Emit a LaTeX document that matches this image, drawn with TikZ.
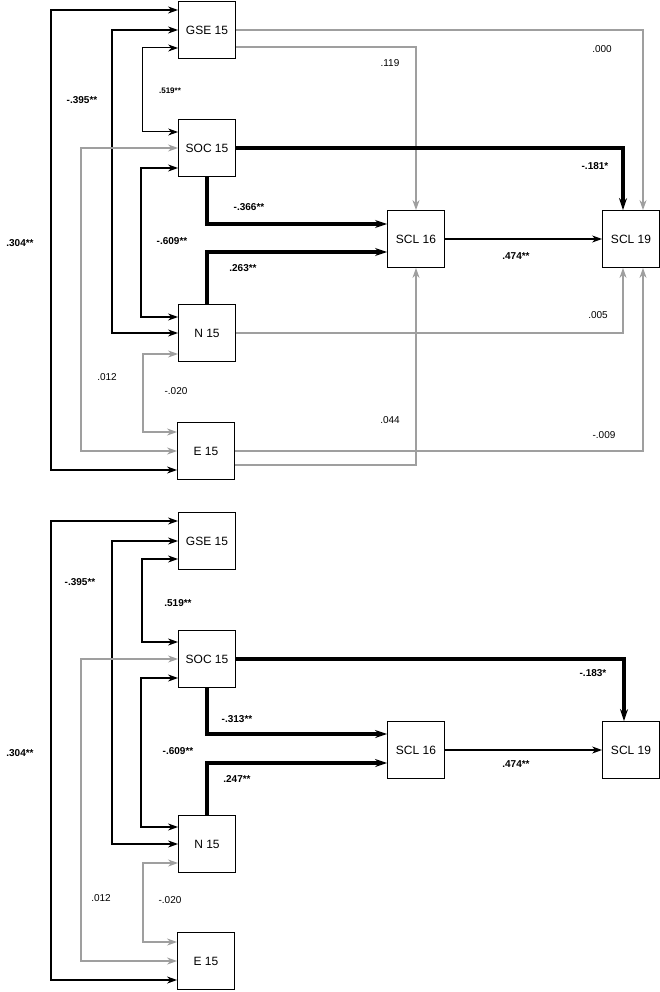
\documentclass[tikz,border=0pt]{standalone}
\usepackage{fontspec}
\setmainfont{Liberation Sans}
\usetikzlibrary{arrows.meta}
\tikzset{
  var/.style={rectangle, draw, thick, minimum width=57pt, minimum height=57pt, inner sep=0pt, font=\fontsize{12}{14}\selectfont},
  corr/.style={{Stealth[length=10pt,width=7pt]}-{Stealth[length=10pt,width=7pt]}, line width=1.6pt},
  ns/.style={-{Stealth[length=10pt,width=7pt]}, line width=1.5pt, gray!75},
  nscorr/.style={{Stealth[length=10pt,width=7pt]}-{Stealth[length=10pt,width=7pt]}, line width=1.5pt, gray!75},
  sig/.style={-{Stealth[length=12pt,width=8pt]}, line width=3.5pt},
  path/.style={-{Stealth[length=10pt,width=7pt]}, line width=1.4pt},
  coef/.style={font=\fontsize{10}{12}\selectfont},
  bcoef/.style={font=\bfseries\fontsize{10}{12}\selectfont}
}
\begin{document}
\begin{tikzpicture}[x=1pt, y=-1pt]
  \useasboundingbox (0,0) rectangle (660,992);

  % model with all paths
  \begin{scope}
    \node [var] (gse) at (207,30) {GSE 15};
    \node [var] (soc) at (207,148) {SOC 15};
    \node [var] (n) at (207,333) {N 15};
    \node [var] (e) at (206,451) {E 15};
    \node [var] (scla) at (416,239) {SCL 16};
    \node [var] (sclb) at (631,239) {SCL 19};

    \draw [corr] ([yshift=20pt]gse.west) -- ++(-127,0) |- ([yshift=-19pt]e.west);
    \draw [corr] (gse.west) -- ++(-66,0) |- (n.west);
    \draw [corr, line width=1pt] ([yshift=-18pt]gse.west) -- ++(-36,0) |- ([yshift=16pt]soc.west);
    \draw [nscorr] (soc.west) -- ++(-97,0) |- (e.west);
    \draw [corr] ([yshift=-20pt]soc.west) -- ++(-37,0) |- ([yshift=16pt]n.west);
    \draw [nscorr] ([yshift=-21pt]n.west) -- ++(-35,0) |- ([yshift=19pt]e.west);

    \draw [ns] (gse.east) -| ([xshift=12pt]sclb.north);
    \draw [ns] ([yshift=-17pt]gse.east) -| (scla.north);
    \draw [sig] (soc.east) -| ([xshift=-8pt]sclb.north);
    \draw [sig] (soc.south) |- ([yshift=15pt]scla.west);
    \draw [sig] (n.north) |- ([yshift=-13pt]scla.west);
    \draw [path] (scla) -- (sclb);
    \draw [ns] (n.east) -| ([xshift=-8pt]sclb.south);
    \draw [ns] ([yshift=-14pt]e.east) -| (scla.south);
    \draw [ns] (e.east) -| ([xshift=12pt]sclb.south);

    \node [bcoef] at (20,243) {.304**};
    \node [bcoef] at (82,100) {-.395**};
    \node [bcoef, font=\bfseries\fontsize{8}{10}\selectfont] at (170,91) {.519**};
    \node [bcoef] at (172,241) {-.609**};
    \node [coef] at (107,377) {.012};
    \node [coef] at (176,391) {-.020};
    \node [coef] at (390,63) {.119};
    \node [coef] at (602,49) {.000};
    \node [bcoef] at (595,166) {-.181*};
    \node [bcoef] at (249,207) {-.366**};
    \node [bcoef] at (243,268) {.263**};
    \node [bcoef] at (516,256) {.474**};
    \node [coef] at (598,315) {.005};
    \node [coef] at (390,420) {.044};
    \node [coef] at (604,435) {-.009};
  \end{scope}

  % model with significant paths only
  \begin{scope}[yshift=-511pt]
    \node [var] (gse) at (207,30) {GSE 15};
    \node [var] (soc) at (207,148) {SOC 15};
    \node [var] (n) at (207,333) {N 15};
    \node [var] (e) at (206,450) {E 15};
    \node [var] (scla) at (416,239) {SCL 16};
    \node [var] (sclb) at (631,239) {SCL 19};

    \draw [corr] ([yshift=20pt]gse.west) -- ++(-127,0) |- ([yshift=-19pt]e.west);
    \draw [corr] (gse.west) -- ++(-66,0) |- (n.west);
    \draw [corr] ([yshift=-18pt]gse.west) -- ++(-36,0) |- ([yshift=17pt]soc.west);
    \draw [nscorr] (soc.west) -- ++(-97,0) |- (e.west);
    \draw [corr] ([yshift=-19pt]soc.west) -- ++(-37,0) |- ([yshift=17pt]n.west);
    \draw [nscorr] ([yshift=-19pt]n.west) -- ++(-35,0) |- ([yshift=19pt]e.west);

    \draw [sig] (soc.east) -| ([xshift=-7pt]sclb.north);
    \draw [sig] (soc.south) |- ([yshift=16pt]scla.west);
    \draw [sig] (n.north) |- ([yshift=-13pt]scla.west);
    \draw [path] (scla) -- (sclb);

    \node [bcoef] at (20,242) {.304**};
    \node [bcoef] at (80,71) {-.395**};
    \node [bcoef] at (178,92) {.519**};
    \node [bcoef] at (178,240) {-.609**};
    \node [coef] at (101,387) {.012};
    \node [coef] at (170,389) {-.020};
    \node [bcoef] at (593,162) {-.183*};
    \node [bcoef] at (237,208) {-.313**};
    \node [bcoef] at (237,268) {.247**};
    \node [bcoef] at (516,253) {.474**};
  \end{scope}
\end{tikzpicture}
\end{document}
